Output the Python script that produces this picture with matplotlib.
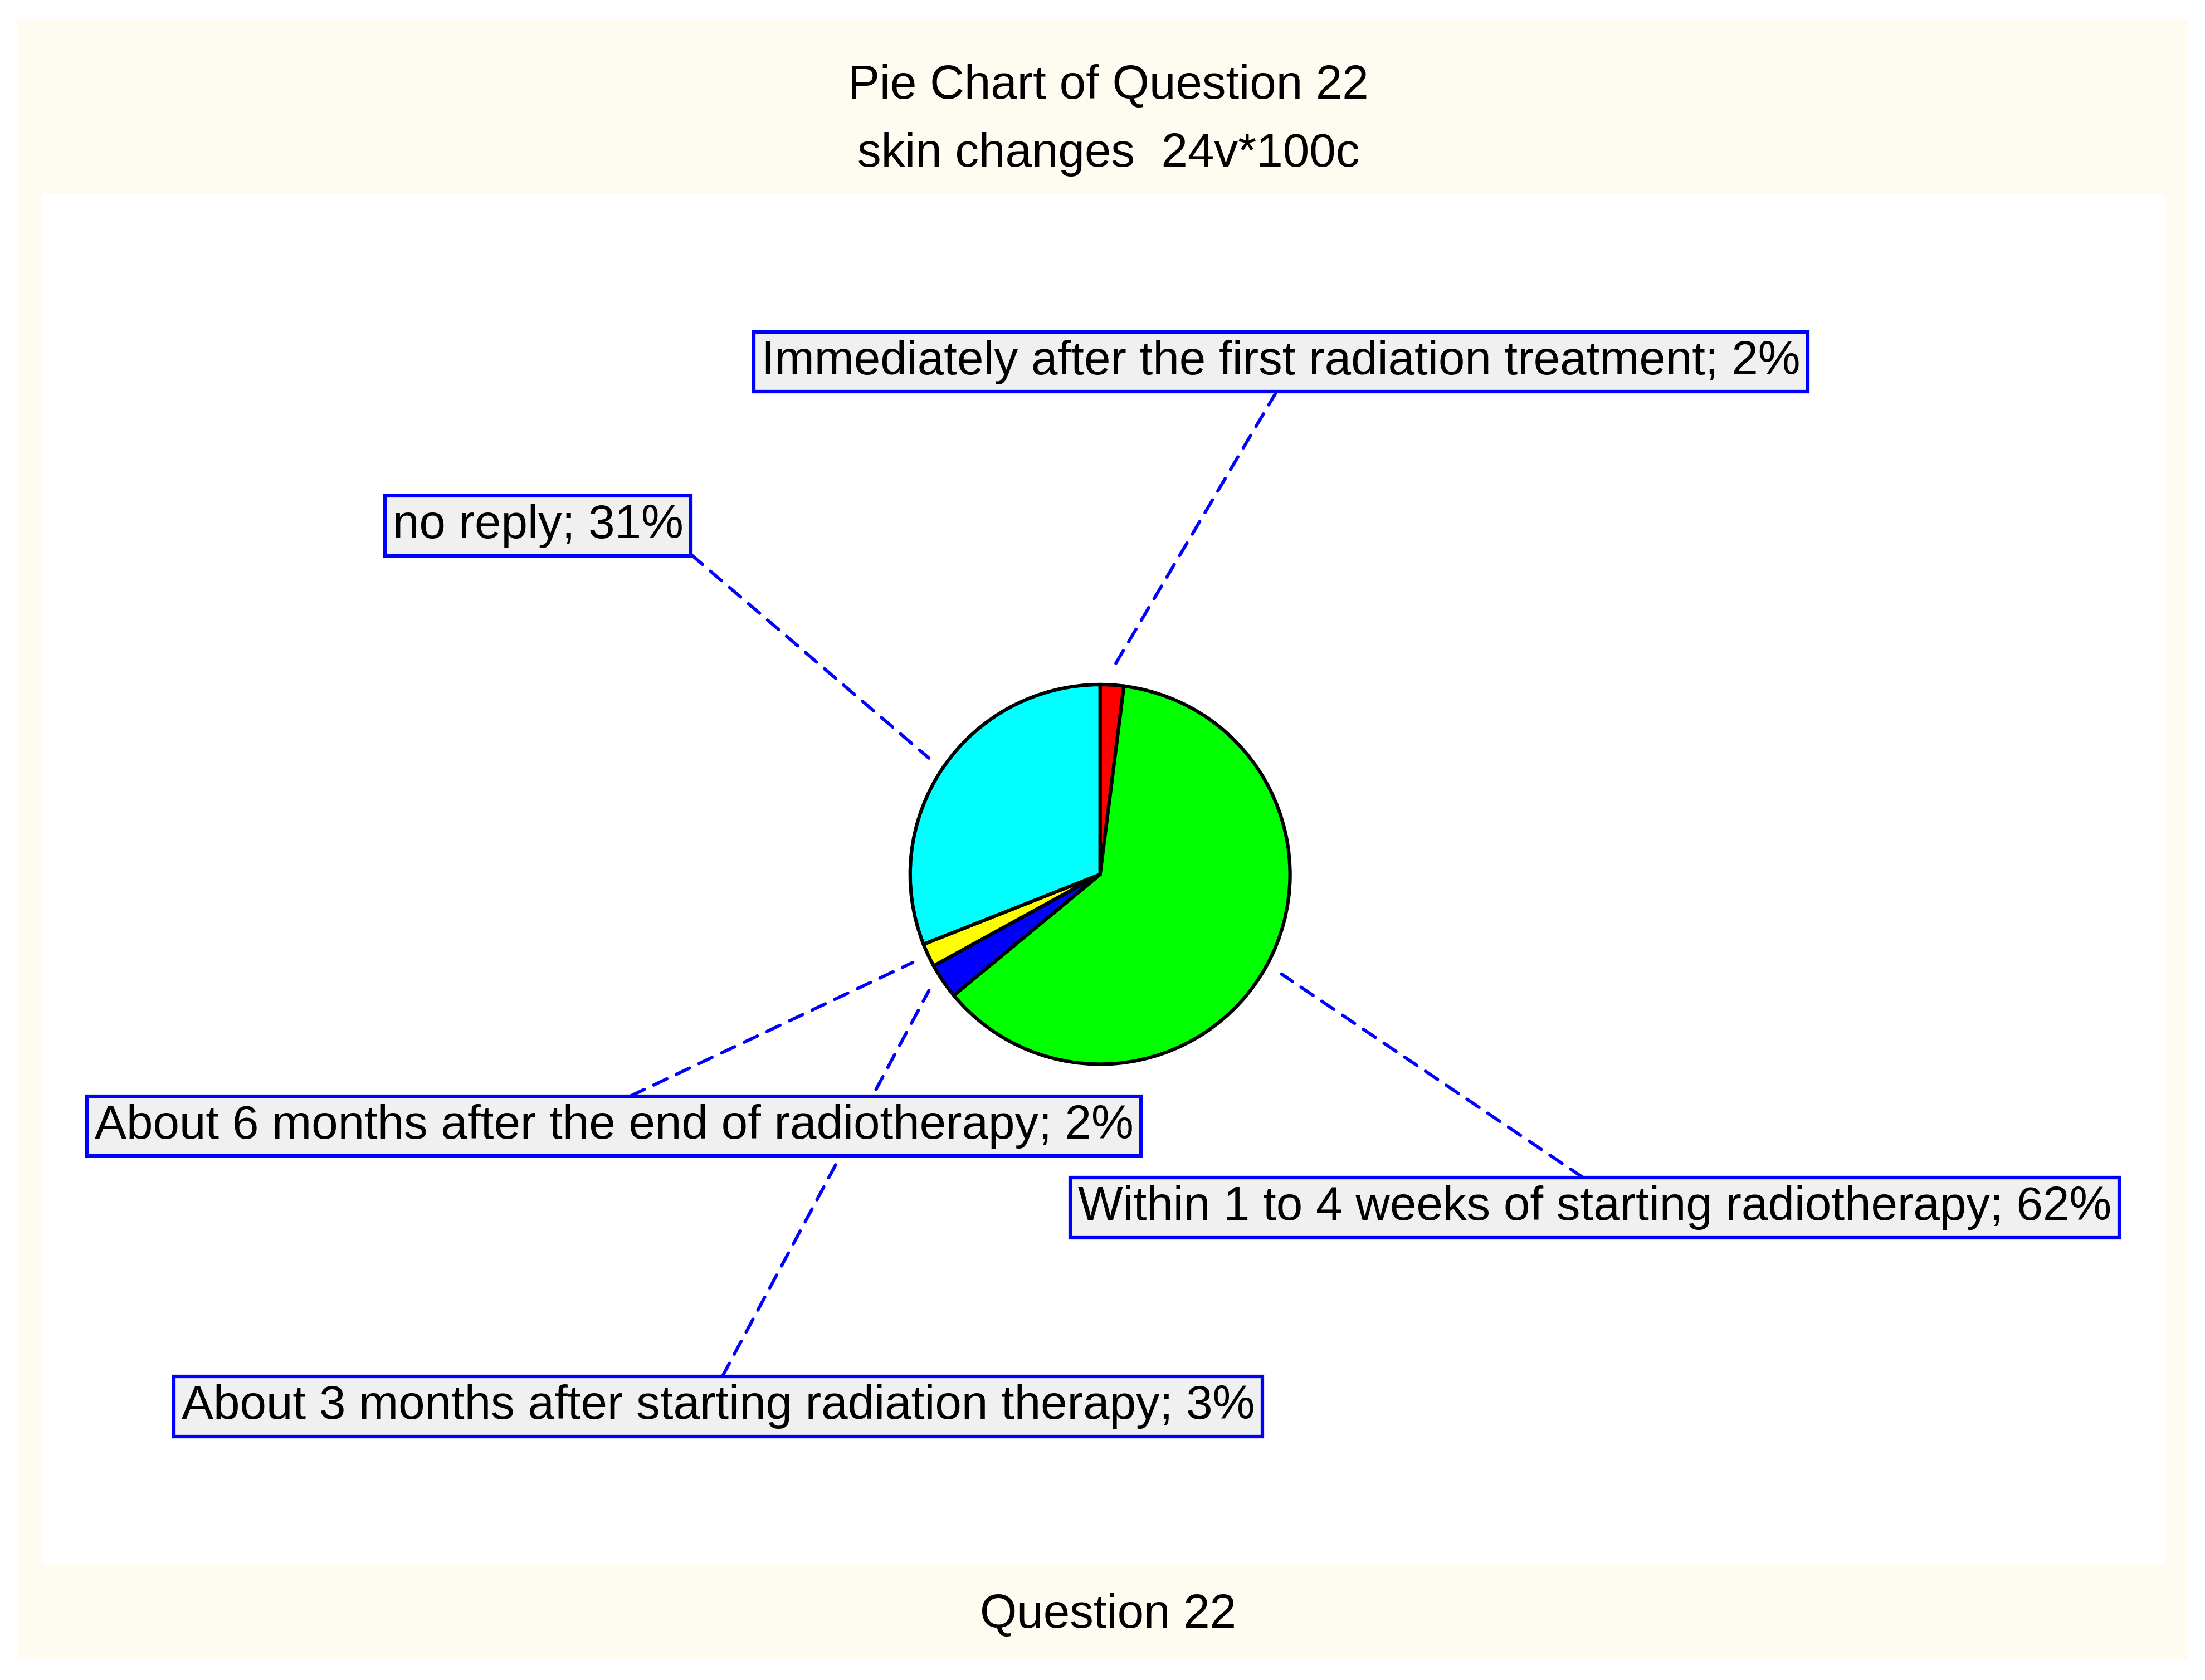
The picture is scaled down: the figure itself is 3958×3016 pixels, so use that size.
import numpy as np
import matplotlib.pyplot as plt
from matplotlib.patches import Rectangle

plt.rcParams['font.family'] = ['Liberation Sans', 'DejaVu Sans']

# data (counts out of 100 cases, clockwise from 12 o'clock)
categories = ['Immediately after the first radiation treatment',
              'Within 1 to 4 weeks of starting radiotherapy',
              'About 3 months after starting radiation therapy',
              'About 6 months after the end of radiotherapy',
              'no reply']
values = [2, 62, 3, 2, 31]
colors = ['#ff0000', '#00ff00', '#0000ff', '#ffff00', '#00ffff']

# label box centres (pie radius = 1) and where the leader leaves the box
label_pos = [(0.952, 2.70), (2.604, -1.756), (-2.011, -2.804),
             (-2.559, -1.326), (-2.959, 1.837)]
label_rel = [(0.5, 0), (0.5, 1), (0.5, 1), (0.5, 1), (1, 0)]

fig = plt.figure(figsize=(3958 / 300, 3016 / 300), dpi=300, facecolor='white')
fig.patches.append(Rectangle((0.00765, 0.01255), 0.98465, 0.97575,
                             transform=fig.transFigure, fc='#fefbf0', ec='none', zorder=-2))
fig.patches.append(Rectangle((0.01913, 0.06946), 0.96301, 0.81506,
                             transform=fig.transFigure, fc='white', ec='none', zorder=-1))

ax = fig.add_axes([0.01913, 0.06946, 0.96301, 0.81506])
wedges, _ = ax.pie(values, colors=colors, startangle=90, counterclock=False,
                   radius=1, wedgeprops=dict(edgecolor='black', linewidth=1.5))

total = sum(values)
for w, cat, v, pos, rel in zip(wedges, categories, values, label_pos, label_rel):
    mid = np.deg2rad((w.theta1 + w.theta2) / 2)
    pt = (1.09 * np.cos(mid), 1.09 * np.sin(mid))
    ax.annotate('%s; %d%%' % (cat, round(100 * v / total)), xy=pt, xytext=pos,
                ha='center', va='center', fontsize=20.5,
                bbox=dict(boxstyle='square,pad=0.16', fc='#f0f0f0', ec='#0000ff', lw=1.5),
                arrowprops=dict(arrowstyle='-', color='#0000ff', lw=1.4,
                                linestyle=(0, (4.5, 3.2)), relpos=rel,
                                shrinkA=0, shrinkB=0))

ax.set_xlim(-5.57, 5.61)
ax.set_ylim(-3.63, 3.585)
ax.set_aspect('auto')
ax.axis('off')

fig.text(0.5026, 0.9485, 'Pie Chart of Question 22', ha='center', va='center', fontsize=20.5)
fig.text(0.5026, 0.9083, 'skin changes  24v*100c', ha='center', va='center', fontsize=20.5)
fig.text(0.5026, 0.0385, 'Question 22', ha='center', va='center', fontsize=20.5)

fig.savefig('out.png', dpi=300, facecolor='white')
